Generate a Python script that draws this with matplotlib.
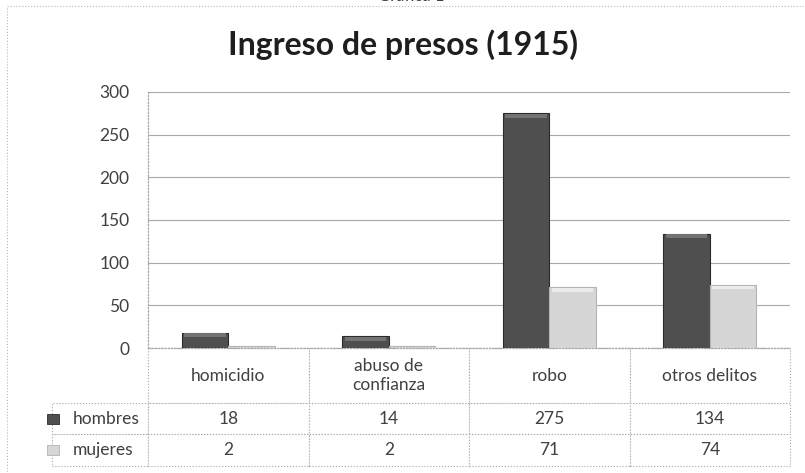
import numpy as np
import matplotlib.pyplot as plt
from matplotlib.patches import Rectangle

# datos
categorias = ['homicidio', 'abuso de\nconfianza', 'robo', 'otros delitos']
series = ['hombres', 'mujeres']
hombres = [18, 14, 275, 134]
mujeres = [2, 2, 71, 74]
y_ticks = [0, 50, 100, 150, 200, 250, 300]

# relleno, borde, brillo superior
colores = {'hombres': ('#4f4f4f', '#2b2b2b', '#737373'),
           'mujeres': ('#d6d6d6', '#b4b4b4', '#ececec')}
texto = '#404040'
linea = '#a8a8a8'

plt.rcParams['font.family'] = ['Lato', 'DejaVu Sans']

W, H = 805, 473
AX_W, AX_H = 642, 256
fig = plt.figure(figsize=(W / 100, H / 100), dpi=100)

# marco exterior del grafico
fig.patches.append(Rectangle((7 / W, -0.1), 2, 1.1 - 6 / H, transform=fig.transFigure,
                             fill=False, edgecolor='#b8b8b8', linestyle=':', linewidth=0.8))
fig.text(411 / W, 1 - 1 / H, 'Gráfica 1', ha='center', va='baseline', fontsize=12, color=texto)
fig.text(403 / W, 1 - 45 / H, 'Ingreso de presos (1915)', ha='center', va='center',
         fontsize=23, fontweight='bold', color='#1e1e1e')

ax = fig.add_axes([148 / W, (H - 348) / H, AX_W / W, AX_H / H])

x = np.arange(len(categorias))
w = 0.29
cap = 4.5  # alto del bisel en unidades de datos
for i, (nombre, vals) in enumerate(zip(series, [hombres, mujeres])):
    fc, ec, hc = colores[nombre]
    pos = x + (i - 0.5) * w
    ax.bar(pos, vals, w, color=fc, edgecolor=ec, linewidth=0.8, zorder=3)
    vals = np.array(vals)
    alto = vals > 2 * cap
    ax.bar(pos[alto], cap, w * 0.9, bottom=vals[alto] - cap * 1.2, color=hc,
           linewidth=0, zorder=4)

ax.set_xlim(-0.5, len(categorias) - 0.5)
ax.set_ylim(0, 300)
ax.set_yticks(y_ticks)
ax.set_xticks([])
ax.tick_params(axis='y', length=0, labelsize=12.5, labelcolor=texto, pad=13.5)
ax.yaxis.grid(True, color=linea, linewidth=0.8)
ax.set_axisbelow(True)
for s in ['top', 'right']:
    ax.spines[s].set_visible(False)
for s in ['left', 'bottom']:
    ax.spines[s].set(color=linea, linestyle=':', linewidth=0.9)

# tabla de datos debajo del eje (medidas en coordenadas del eje)
celdas = [[str(v) for v in hombres], [str(v) for v in mujeres]]
col_w, lab_w = 0.25, 106 / AX_W
alturas = [55 / AX_H, 31 / AX_H, 32 / AX_H]
alto_tabla = sum(alturas)
tbl = ax.table(cellText=celdas, rowLabels=series, colLabels=categorias,
               cellLoc='center', rowLoc='left', bbox=[0, -alto_tabla, 1, alto_tabla])
tbl.auto_set_font_size(False)
tbl.set_fontsize(12.5)
for (r, c), cell in tbl.get_celld().items():
    cell.set_height(alturas[r])
    cell.set_width(lab_w if c == -1 else col_w)
    cell.set_edgecolor(linea)
    cell.set_linestyle(':')
    cell.set_linewidth(0.8)
    cell.get_text().set_color(texto)
    if c == -1:
        cell.PAD = 23 / 106

# cuadritos de leyenda en la tabla
for i, nombre in enumerate(series):
    fc, ec, _ = colores[nombre]
    yc = -(55 + 31 * i + 15.5) / AX_H
    ax.add_patch(Rectangle(((47 - 148) / AX_W, yc - 5 / AX_H), 12 / AX_W, 10 / AX_H,
                           transform=ax.transAxes, clip_on=False, zorder=5,
                           facecolor=fc, edgecolor=ec, linewidth=0.6))

fig.savefig('out.png', dpi=100)
